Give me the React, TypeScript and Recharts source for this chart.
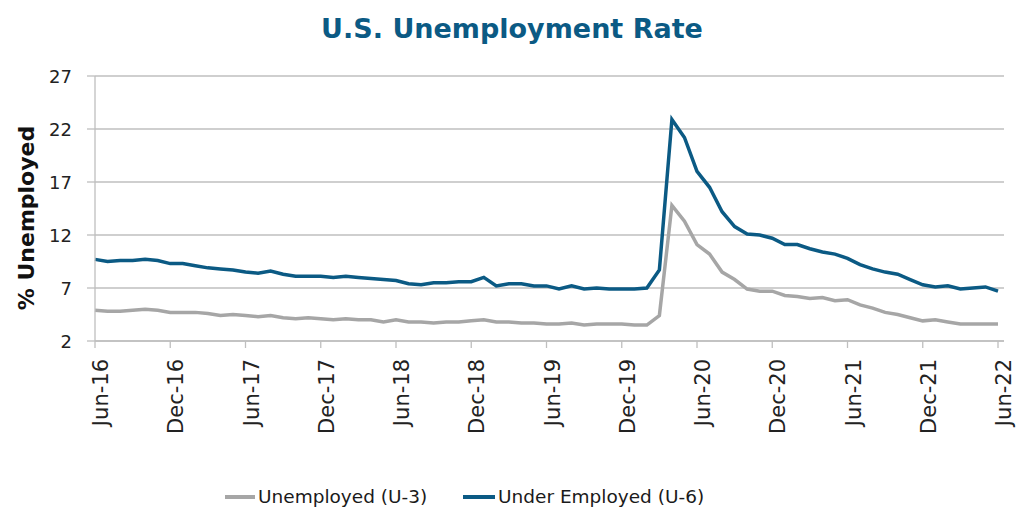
import React from "react";
import { LineChart, Line, XAxis, YAxis, CartesianGrid } from "recharts";

const months: string[] = [
  "Jun-16", "Jul-16", "Aug-16", "Sep-16", "Oct-16", "Nov-16", "Dec-16",
  "Jan-17", "Feb-17", "Mar-17", "Apr-17", "May-17", "Jun-17", "Jul-17", "Aug-17", "Sep-17", "Oct-17", "Nov-17", "Dec-17",
  "Jan-18", "Feb-18", "Mar-18", "Apr-18", "May-18", "Jun-18", "Jul-18", "Aug-18", "Sep-18", "Oct-18", "Nov-18", "Dec-18",
  "Jan-19", "Feb-19", "Mar-19", "Apr-19", "May-19", "Jun-19", "Jul-19", "Aug-19", "Sep-19", "Oct-19", "Nov-19", "Dec-19",
  "Jan-20", "Feb-20", "Mar-20", "Apr-20", "May-20", "Jun-20", "Jul-20", "Aug-20", "Sep-20", "Oct-20", "Nov-20", "Dec-20",
  "Jan-21", "Feb-21", "Mar-21", "Apr-21", "May-21", "Jun-21", "Jul-21", "Aug-21", "Sep-21", "Oct-21", "Nov-21", "Dec-21",
  "Jan-22", "Feb-22", "Mar-22", "Apr-22", "May-22", "Jun-22",
];

const u3: number[] = [
  4.9, 4.8, 4.8, 4.9, 5.0, 4.9, 4.7,
  4.7, 4.7, 4.6, 4.4, 4.5, 4.4, 4.3, 4.4, 4.2, 4.1, 4.2, 4.1,
  4.0, 4.1, 4.0, 4.0, 3.8, 4.0, 3.8, 3.8, 3.7, 3.8, 3.8, 3.9,
  4.0, 3.8, 3.8, 3.7, 3.7, 3.6, 3.6, 3.7, 3.5, 3.6, 3.6, 3.6,
  3.5, 3.5, 4.4, 14.8, 13.3, 11.1, 10.2, 8.5, 7.8, 6.9, 6.7, 6.7,
  6.3, 6.2, 6.0, 6.1, 5.8, 5.9, 5.4, 5.1, 4.7, 4.5, 4.2, 3.9,
  4.0, 3.8, 3.6, 3.6, 3.6, 3.6,
];

const u6: number[] = [
  9.7, 9.5, 9.6, 9.6, 9.7, 9.6, 9.3,
  9.3, 9.1, 8.9, 8.8, 8.7, 8.5, 8.4, 8.6, 8.3, 8.1, 8.1, 8.1,
  8.0, 8.1, 8.0, 7.9, 7.8, 7.7, 7.4, 7.3, 7.5, 7.5, 7.6, 7.6,
  8.0, 7.2, 7.4, 7.4, 7.2, 7.2, 6.9, 7.2, 6.9, 7.0, 6.9, 6.9,
  6.9, 7.0, 8.7, 22.9, 21.2, 18.0, 16.5, 14.2, 12.8, 12.1, 12.0, 11.7,
  11.1, 11.1, 10.7, 10.4, 10.2, 9.8, 9.2, 8.8, 8.5, 8.3, 7.8, 7.3,
  7.1, 7.2, 6.9, 7.0, 7.1, 6.7,
];

const yTicks: number[] = [2, 7, 12, 17, 22, 27];

const seriesNames = { u3: "Unemployed (U-3)", u6: "Under Employed (U-6)" };
const titleText = "U.S. Unemployment Rate";
const yLabelText = "% Unemployed";

const data = months.map((m, i) => ({ month: m, u3: u3[i], u6: u6[i] }));

const BLUE = "#0B5A84";
const GRAY = "#A6A6A6";
const GRID = "#BFBFBF";
const FONT = "'DejaVu Sans', Verdana, sans-serif";

const XTick = (props: any) => {
  const { x, y, payload } = props;
  return (
    <text
      transform={`translate(${x + 6},${y + 9}) rotate(-90)`}
      textAnchor="end"
      dominantBaseline="central"
      fontFamily={FONT}
      fontSize={21}
      fill="#222"
    >
      {payload.value}
    </text>
  );
};

const YTick = (props: any) => {
  const { x, y, payload } = props;
  return (
    <text x={x} y={y} textAnchor="end" dominantBaseline="central" fontFamily={FONT} fontSize={18} fill="#222">
      {payload.value}
    </text>
  );
};

export default function App() {
  return (
    <div style={{ position: "absolute", left: 0, top: 0, width: 1024, height: 529, background: "#fff" }}>
      <div
        style={{
          position: "absolute",
          left: 0,
          top: 12,
          width: 1024,
          textAlign: "center",
          fontFamily: FONT,
          fontWeight: "bold",
          fontSize: 27,
          color: BLUE,
          lineHeight: "34px",
        }}
      >
        {titleText}
      </div>
      <LineChart
        width={1024}
        height={529}
        data={data}
        margin={{ top: 76, right: 20, bottom: 88, left: 0 }}
        style={{ position: "absolute", left: 0, top: 0 }}
      >
        <CartesianGrid vertical={false} stroke={GRID} strokeWidth={1.3} />
        <XAxis
          dataKey="month"
          interval={5}
          height={100}
          padding={{ left: 0, right: 6 }}
          tickLine={{ stroke: GRID, strokeWidth: 1.3 }}
          axisLine={{ stroke: GRID, strokeWidth: 1.3 }}
          tickSize={7}
          tick={<XTick />}
        />
        <YAxis
          domain={[2, 27]}
          ticks={yTicks}
          width={95}
          tickSize={8}
          tickMargin={15}
          tickLine={{ stroke: GRID, strokeWidth: 1.3 }}
          axisLine={{ stroke: GRID, strokeWidth: 1.3 }}
          tick={<YTick />}
          allowDataOverflow
        />
        <Line dataKey="u3" name={seriesNames.u3} stroke={GRAY} strokeWidth={3.5} dot={false} isAnimationActive={false} />
        <Line dataKey="u6" name={seriesNames.u6} stroke={BLUE} strokeWidth={3.5} dot={false} isAnimationActive={false} />
      </LineChart>
      <svg style={{ position: "absolute", left: 0, top: 0, pointerEvents: "none" }} width={1024} height={529}>
        <text
          transform="translate(26,218) rotate(-90)"
          textAnchor="middle"
          dominantBaseline="central"
          fontFamily={FONT}
          fontWeight="bold"
          fontSize={22}
          fill="#111"
        >
          {yLabelText}
        </text>
      </svg>
      <div style={{ position: "absolute", left: 0, top: 484, width: 1024, height: 26, fontFamily: FONT, fontSize: 18.5, color: "#1a1a1a" }}>
        <div style={{ position: "absolute", left: 225, top: 11, width: 30, height: 4, background: GRAY }} />
        <div style={{ position: "absolute", left: 258, top: 0, lineHeight: "26px", whiteSpace: "nowrap" }}>{seriesNames.u3}</div>
        <div style={{ position: "absolute", left: 463, top: 11, width: 32, height: 4, background: BLUE }} />
        <div style={{ position: "absolute", left: 498, top: 0, lineHeight: "26px", whiteSpace: "nowrap" }}>{seriesNames.u6}</div>
      </div>
    </div>
  );
}
